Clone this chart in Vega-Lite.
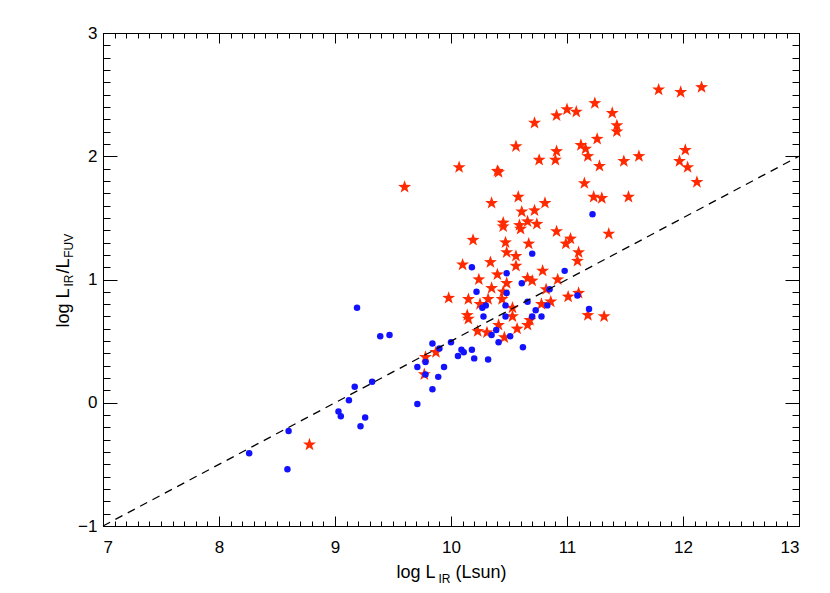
{
  "$schema": "https://vega.github.io/schema/vega-lite/v6.json",
  "width": 696,
  "height": 493,
  "autosize": "none",
  "padding": {"left": 103, "top": 33, "right": 31, "bottom": 67},
  "background": "white",
  "config": {
    "view": {"stroke": "black", "strokeWidth": 1},
    "axis": {
      "domainColor": "black", "tickColor": "black", "labelColor": "black", "titleColor": "black",
      "labelFont": "Liberation Sans", "titleFont": "Liberation Sans",
      "labelFontSize": 17, "titleFontSize": 18, "titleFontWeight": "normal",
      "grid": false, "ticks": true, "tickOpacity": 1, "domainWidth": 1, "tickWidth": 1, "zindex": 1
    }
  },
  "datasets": {
    "pts": [
      {"sample": "A", "lir": 8.78, "ratio": -0.34},
      {"sample": "A", "lir": 9.60, "ratio": 1.75},
      {"sample": "A", "lir": 10.07, "ratio": 1.91},
      {"sample": "A", "lir": 10.40, "ratio": 1.88},
      {"sample": "A", "lir": 10.41, "ratio": 1.87},
      {"sample": "A", "lir": 9.78, "ratio": 0.37},
      {"sample": "A", "lir": 9.87, "ratio": 0.41},
      {"sample": "A", "lir": 9.77, "ratio": 0.23},
      {"sample": "A", "lir": 9.98, "ratio": 0.85},
      {"sample": "A", "lir": 10.15, "ratio": 0.84},
      {"sample": "A", "lir": 10.14, "ratio": 0.71},
      {"sample": "A", "lir": 10.15, "ratio": 0.68},
      {"sample": "A", "lir": 10.25, "ratio": 0.80},
      {"sample": "A", "lir": 10.32, "ratio": 0.84},
      {"sample": "A", "lir": 10.44, "ratio": 0.84},
      {"sample": "A", "lir": 10.53, "ratio": 0.77},
      {"sample": "A", "lir": 10.53, "ratio": 0.70},
      {"sample": "A", "lir": 10.23, "ratio": 0.58},
      {"sample": "A", "lir": 10.31, "ratio": 0.57},
      {"sample": "A", "lir": 10.41, "ratio": 0.63},
      {"sample": "A", "lir": 10.46, "ratio": 0.53},
      {"sample": "A", "lir": 10.57, "ratio": 0.60},
      {"sample": "A", "lir": 10.35, "ratio": 1.62},
      {"sample": "A", "lir": 10.61, "ratio": 1.55},
      {"sample": "A", "lir": 10.72, "ratio": 1.56},
      {"sample": "A", "lir": 10.45, "ratio": 1.46},
      {"sample": "A", "lir": 10.45, "ratio": 1.43},
      {"sample": "A", "lir": 10.66, "ratio": 1.47},
      {"sample": "A", "lir": 10.59, "ratio": 1.44},
      {"sample": "A", "lir": 10.60, "ratio": 1.41},
      {"sample": "A", "lir": 10.74, "ratio": 1.45},
      {"sample": "A", "lir": 10.91, "ratio": 1.39},
      {"sample": "A", "lir": 10.19, "ratio": 1.32},
      {"sample": "A", "lir": 10.47, "ratio": 1.30},
      {"sample": "A", "lir": 10.67, "ratio": 1.29},
      {"sample": "A", "lir": 10.48, "ratio": 1.22},
      {"sample": "A", "lir": 10.56, "ratio": 1.19},
      {"sample": "A", "lir": 10.56, "ratio": 1.11},
      {"sample": "A", "lir": 10.34, "ratio": 1.14},
      {"sample": "A", "lir": 10.10, "ratio": 1.12},
      {"sample": "A", "lir": 10.79, "ratio": 1.07},
      {"sample": "A", "lir": 10.24, "ratio": 1.00},
      {"sample": "A", "lir": 10.40, "ratio": 1.04},
      {"sample": "A", "lir": 10.48, "ratio": 0.97},
      {"sample": "A", "lir": 10.66, "ratio": 1.01},
      {"sample": "A", "lir": 10.70, "ratio": 0.99},
      {"sample": "A", "lir": 10.92, "ratio": 1.00},
      {"sample": "A", "lir": 10.35, "ratio": 0.93},
      {"sample": "A", "lir": 10.45, "ratio": 0.90},
      {"sample": "A", "lir": 10.82, "ratio": 0.92},
      {"sample": "A", "lir": 10.86, "ratio": 0.82},
      {"sample": "A", "lir": 10.81, "ratio": 1.62},
      {"sample": "A", "lir": 11.03, "ratio": 1.33},
      {"sample": "A", "lir": 10.99, "ratio": 1.29},
      {"sample": "A", "lir": 11.36, "ratio": 1.37},
      {"sample": "A", "lir": 11.10, "ratio": 1.22},
      {"sample": "A", "lir": 11.09, "ratio": 1.15},
      {"sample": "A", "lir": 11.01, "ratio": 0.86},
      {"sample": "A", "lir": 11.10, "ratio": 0.89},
      {"sample": "A", "lir": 10.78, "ratio": 0.80},
      {"sample": "A", "lir": 11.18, "ratio": 0.71},
      {"sample": "A", "lir": 11.32, "ratio": 0.70},
      {"sample": "A", "lir": 10.68, "ratio": 0.67},
      {"sample": "A", "lir": 10.66, "ratio": 0.63},
      {"sample": "A", "lir": 10.56, "ratio": 2.08},
      {"sample": "A", "lir": 10.72, "ratio": 2.27},
      {"sample": "A", "lir": 10.91, "ratio": 2.33},
      {"sample": "A", "lir": 11.00, "ratio": 2.38},
      {"sample": "A", "lir": 11.08, "ratio": 2.36},
      {"sample": "A", "lir": 11.24, "ratio": 2.43},
      {"sample": "A", "lir": 11.39, "ratio": 2.35},
      {"sample": "A", "lir": 11.43, "ratio": 2.25},
      {"sample": "A", "lir": 11.43, "ratio": 2.20},
      {"sample": "A", "lir": 11.26, "ratio": 2.14},
      {"sample": "A", "lir": 11.12, "ratio": 2.09},
      {"sample": "A", "lir": 11.16, "ratio": 2.06},
      {"sample": "A", "lir": 11.18, "ratio": 2.00},
      {"sample": "A", "lir": 11.28, "ratio": 1.92},
      {"sample": "A", "lir": 10.91, "ratio": 2.04},
      {"sample": "A", "lir": 10.90, "ratio": 1.97},
      {"sample": "A", "lir": 10.76, "ratio": 1.97},
      {"sample": "A", "lir": 11.49, "ratio": 1.96},
      {"sample": "A", "lir": 11.62, "ratio": 2.00},
      {"sample": "A", "lir": 11.79, "ratio": 2.54},
      {"sample": "A", "lir": 11.98, "ratio": 2.52},
      {"sample": "A", "lir": 12.16, "ratio": 2.56},
      {"sample": "A", "lir": 12.02, "ratio": 2.05},
      {"sample": "A", "lir": 11.97, "ratio": 1.96},
      {"sample": "A", "lir": 12.04, "ratio": 1.91},
      {"sample": "A", "lir": 12.12, "ratio": 1.79},
      {"sample": "A", "lir": 11.15, "ratio": 1.78},
      {"sample": "A", "lir": 11.23, "ratio": 1.67},
      {"sample": "A", "lir": 11.30, "ratio": 1.66},
      {"sample": "A", "lir": 11.53, "ratio": 1.67},
      {"sample": "A", "lir": 10.58, "ratio": 1.67},
      {"sample": "B", "lir": 8.26, "ratio": -0.41},
      {"sample": "B", "lir": 8.59, "ratio": -0.54},
      {"sample": "B", "lir": 8.60, "ratio": -0.23},
      {"sample": "B", "lir": 9.03, "ratio": -0.07},
      {"sample": "B", "lir": 9.05, "ratio": -0.11},
      {"sample": "B", "lir": 9.12, "ratio": 0.02},
      {"sample": "B", "lir": 9.17, "ratio": 0.13},
      {"sample": "B", "lir": 9.19, "ratio": 0.77},
      {"sample": "B", "lir": 9.22, "ratio": -0.19},
      {"sample": "B", "lir": 9.26, "ratio": -0.12},
      {"sample": "B", "lir": 9.32, "ratio": 0.17},
      {"sample": "B", "lir": 9.39, "ratio": 0.54},
      {"sample": "B", "lir": 9.47, "ratio": 0.55},
      {"sample": "B", "lir": 9.71, "ratio": -0.01},
      {"sample": "B", "lir": 9.71, "ratio": 0.29},
      {"sample": "B", "lir": 9.78, "ratio": 0.33},
      {"sample": "B", "lir": 9.78, "ratio": 0.23},
      {"sample": "B", "lir": 9.84, "ratio": 0.11},
      {"sample": "B", "lir": 9.89, "ratio": 0.21},
      {"sample": "B", "lir": 9.94, "ratio": 0.29},
      {"sample": "B", "lir": 9.84, "ratio": 0.48},
      {"sample": "B", "lir": 9.90, "ratio": 0.44},
      {"sample": "B", "lir": 10.00, "ratio": 0.49},
      {"sample": "B", "lir": 10.06, "ratio": 0.38},
      {"sample": "B", "lir": 10.09, "ratio": 0.43},
      {"sample": "B", "lir": 10.11, "ratio": 0.41},
      {"sample": "B", "lir": 10.18, "ratio": 0.43},
      {"sample": "B", "lir": 10.20, "ratio": 0.36},
      {"sample": "B", "lir": 10.22, "ratio": 0.90},
      {"sample": "B", "lir": 10.32, "ratio": 0.35},
      {"sample": "B", "lir": 10.30, "ratio": 0.79},
      {"sample": "B", "lir": 10.27, "ratio": 0.77},
      {"sample": "B", "lir": 10.28, "ratio": 0.70},
      {"sample": "B", "lir": 10.47, "ratio": 0.79},
      {"sample": "B", "lir": 10.48, "ratio": 0.89},
      {"sample": "B", "lir": 10.47, "ratio": 0.70},
      {"sample": "B", "lir": 10.66, "ratio": 0.82},
      {"sample": "B", "lir": 10.39, "ratio": 0.59},
      {"sample": "B", "lir": 10.35, "ratio": 0.55},
      {"sample": "B", "lir": 10.41, "ratio": 0.49},
      {"sample": "B", "lir": 10.51, "ratio": 0.54},
      {"sample": "B", "lir": 10.62, "ratio": 0.45},
      {"sample": "B", "lir": 10.18, "ratio": 1.10},
      {"sample": "B", "lir": 10.48, "ratio": 1.05},
      {"sample": "B", "lir": 10.61, "ratio": 0.97},
      {"sample": "B", "lir": 10.70, "ratio": 1.21},
      {"sample": "B", "lir": 10.85, "ratio": 0.92},
      {"sample": "B", "lir": 10.83, "ratio": 0.79},
      {"sample": "B", "lir": 10.73, "ratio": 0.75},
      {"sample": "B", "lir": 10.70, "ratio": 0.70},
      {"sample": "B", "lir": 10.78, "ratio": 0.70},
      {"sample": "B", "lir": 10.98, "ratio": 1.07},
      {"sample": "B", "lir": 11.09, "ratio": 0.87},
      {"sample": "B", "lir": 11.19, "ratio": 0.76},
      {"sample": "B", "lir": 11.22, "ratio": 1.53}
    ],
    "fit": [
      {"lir": 7, "ratio": -1},
      {"lir": 13, "ratio": 2}
    ]
  },
  "layer": [
    {
      "data": {"name": "pts"},
      "mark": {"type": "point", "filled": true, "opacity": 1, "strokeWidth": 0},
      "encoding": {
        "x": {
          "field": "lir", "type": "quantitative",
          "scale": {"domain": [7, 13], "nice": false, "zero": false},
          "axis": {
            "orient": "bottom", "values": [7, 8, 9, 10, 11, 12, 13], "format": "d", "zindex": 1,
            "ticks": true, "tickSize": -10, "labelPadding": 23,
            "title": "log L\u00a0\u00a0\u00a0\u00a0(Lsun)", "titleAlign": "left", "titleX": 293, "titleY": 51, "titleBaseline": "alphabetic"
          }
        },
        "y": {
          "field": "ratio", "type": "quantitative",
          "scale": {"domain": [-1, 3], "nice": false, "zero": false},
          "axis": {
            "orient": "left", "values": [-1, 0, 1, 2, 3], "format": "d", "zindex": 1,
            "ticks": true, "tickSize": -14, "labelPadding": 20,
            "title": "log L\u00a0\u00a0\u00a0/L", "titleAngle": 270, "titleAlign": "left", "titleX": -35, "titleY": 294, "titleBaseline": "alphabetic"
          }
        },
        "color": {"field": "sample", "type": "nominal", "scale": {"domain": ["A", "B"], "range": ["#ff2a00", "#1212ff"]}, "legend": null},
        "shape": {"field": "sample", "type": "nominal", "scale": {"domain": ["A", "B"], "range": ["M0,-1L0.235,-0.324L0.951,-0.309L0.38,0.124L0.588,0.809L0,0.4L-0.588,0.809L-0.38,0.124L-0.951,-0.309L-0.235,-0.324Z", "circle"]}, "legend": null},
        "size": {"field": "sample", "type": "ordinal", "scale": {"domain": ["A", "B"], "range": [185, 42]}, "legend": null}
      }
    },
    {
      "data": {"name": "fit"},
      "mark": {"type": "line", "color": "black", "strokeWidth": 1.3, "strokeDash": [8, 6]},
      "encoding": {
        "x": {
          "field": "lir", "type": "quantitative",
          "scale": {"domain": [7, 13], "nice": false, "zero": false},
          "axis": {
            "orient": "top", "values": [7, 8, 9, 10, 11, 12, 13], "zindex": 1,
            "ticks": true, "tickSize": -10, "labels": false,
            "title": "IR", "titleFontSize": 12, "titleAlign": "left", "titleX": 335, "titleY": 549, "titleBaseline": "alphabetic"
          }
        },
        "y": {
          "field": "ratio", "type": "quantitative",
          "scale": {"domain": [-1, 3], "nice": false, "zero": false},
          "axis": {
            "orient": "right", "values": [-1, 0, 1, 2, 3], "zindex": 1,
            "ticks": true, "tickSize": -14, "labels": false,
            "title": "IR\u00a0\u00a0\u00a0\u00a0\u00a0FUV", "titleFontSize": 12, "titleAngle": 270, "titleAlign": "left", "titleX": -727, "titleY": 253, "titleBaseline": "alphabetic"
          }
        }
      }
    },
    {
      "data": {"name": "fit"},
      "mark": {"type": "point", "opacity": 0},
      "encoding": {
        "x": {
          "field": "lir", "type": "quantitative",
          "scale": {"domain": [7, 13], "nice": false, "zero": false},
          "axis": {
            "orient": "bottom", "domain": false, "labels": false, "title": null, "ticks": true, "tickSize": -5, "zindex": 1,
            "values": [7.1,7.2,7.3,7.4,7.5,7.6,7.7,7.8,7.9,8.1,8.2,8.3,8.4,8.5,8.6,8.7,8.8,8.9,9.1,9.2,9.3,9.4,9.5,9.6,9.7,9.8,9.9,10.1,10.2,10.3,10.4,10.5,10.6,10.7,10.8,10.9,11.1,11.2,11.3,11.4,11.5,11.6,11.7,11.8,11.9,12.1,12.2,12.3,12.4,12.5,12.6,12.7,12.8,12.9]
          }
        },
        "y": {
          "field": "ratio", "type": "quantitative",
          "scale": {"domain": [-1, 3], "nice": false, "zero": false},
          "axis": {
            "orient": "left", "domain": false, "labels": false, "title": null, "ticks": true, "tickSize": -7, "zindex": 1,
            "values": [-0.9,-0.8,-0.7,-0.6,-0.5,-0.4,-0.3,-0.2,-0.1,0.1,0.2,0.3,0.4,0.5,0.6,0.7,0.8,0.9,1.1,1.2,1.3,1.4,1.5,1.6,1.7,1.8,1.9,2.1,2.2,2.3,2.4,2.5,2.6,2.7,2.8,2.9]
          }
        }
      }
    },
    {
      "data": {"name": "fit"},
      "mark": {"type": "point", "opacity": 0},
      "encoding": {
        "x": {
          "field": "lir", "type": "quantitative",
          "scale": {"domain": [7, 13], "nice": false, "zero": false},
          "axis": {
            "orient": "top", "domain": false, "labels": false, "title": null, "ticks": true, "tickSize": -5, "zindex": 1,
            "values": [7.1,7.2,7.3,7.4,7.5,7.6,7.7,7.8,7.9,8.1,8.2,8.3,8.4,8.5,8.6,8.7,8.8,8.9,9.1,9.2,9.3,9.4,9.5,9.6,9.7,9.8,9.9,10.1,10.2,10.3,10.4,10.5,10.6,10.7,10.8,10.9,11.1,11.2,11.3,11.4,11.5,11.6,11.7,11.8,11.9,12.1,12.2,12.3,12.4,12.5,12.6,12.7,12.8,12.9]
          }
        },
        "y": {
          "field": "ratio", "type": "quantitative",
          "scale": {"domain": [-1, 3], "nice": false, "zero": false},
          "axis": {
            "orient": "right", "domain": false, "labels": false, "title": null, "ticks": true, "tickSize": -7, "zindex": 1,
            "values": [-0.9,-0.8,-0.7,-0.6,-0.5,-0.4,-0.3,-0.2,-0.1,0.1,0.2,0.3,0.4,0.5,0.6,0.7,0.8,0.9,1.1,1.2,1.3,1.4,1.5,1.6,1.7,1.8,1.9,2.1,2.2,2.3,2.4,2.5,2.6,2.7,2.8,2.9]
          }
        }
      }
    }
  ],
  "resolve": {"axis": {"x": "independent", "y": "independent"}}
}
